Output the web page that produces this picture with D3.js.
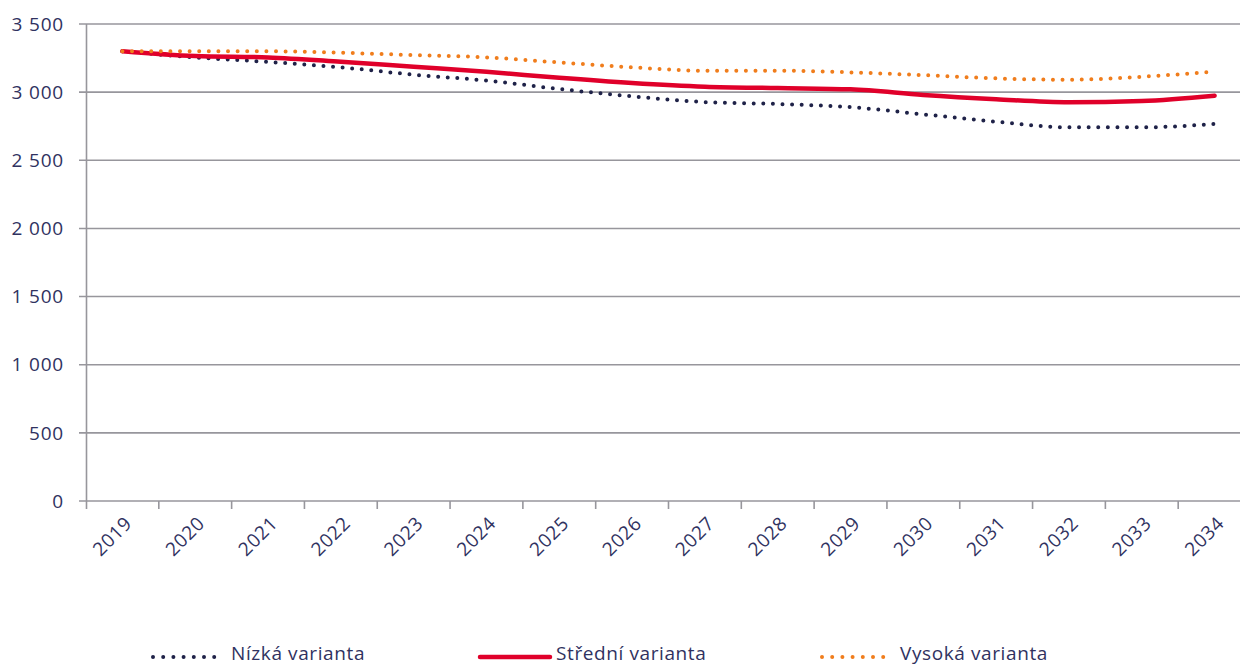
<!DOCTYPE html>
<html>
<head>
<meta charset="utf-8">
<script src="https://cdn.jsdelivr.net/npm/d3@7"></script>
<style>
  body { margin: 0; background: #fff; }
  svg { display: block; font-family: "Open Sans", sans-serif; }
</style>
</head>
<body>
<script>
// data
const years = ["2019","2020","2021","2022","2023","2024","2025","2026","2027","2028","2029","2030","2031","2032","2033","2034"];
const nizka   = [3300, 3255, 3222, 3182, 3128, 3085, 3023, 2969, 2927, 2913, 2890, 2837, 2783, 2742, 2742, 2766];
const stredni = [3300, 3265, 3255, 3223, 3186, 3150, 3105, 3067, 3040, 3030, 3021, 2979, 2948, 2926, 2935, 2974];
const vysoka  = [3300, 3300, 3300, 3289, 3272, 3255, 3218, 3182, 3157, 3157, 3145, 3125, 3101, 3091, 3113, 3150];
const yTicks = [0, 500, 1000, 1500, 2000, 2500, 3000, 3500];
const seriesNames = ["Nízká varianta", "Střední varianta", "Vysoká varianta"];

const width = 1240, height = 667;
const txtColor = "#30325f";
const gridColor = "#97969c";

const series = [
  { name: seriesNames[0], values: nizka, color: "#1f2248", dash: true },
  { name: seriesNames[1], values: stredni, color: "#e0002a", dash: false },
  { name: seriesNames[2], values: vysoka, color: "#f07d1c", dash: true }
];

const svg = d3.select("body").append("svg")
  .attr("width", width).attr("height", height);

// plot area runs a bit past the right edge like the original
const x = d3.scaleBand().domain(years).range([86, 1251]);
const y = d3.scaleLinear().domain([0, 3500]).range([501, 24]);

// gridlines
svg.append("g").selectAll("line").data(yTicks).join("line")
  .attr("x1", 79).attr("x2", width)
  .attr("y1", d => y(d)).attr("y2", d => y(d))
  .attr("stroke", gridColor).attr("stroke-width", 1.6);

// y labels
svg.append("g").selectAll("text").data(yTicks).join("text")
  .attr("x", 64).attr("y", d => y(d)).attr("dy", "0.35em")
  .attr("text-anchor", "end")
  .attr("font-size", 19).attr("letter-spacing", 0.8).attr("fill", txtColor)
  .text(d => d3.format(",")(d).replace(/,/g, " "));

// y axis line
svg.append("line")
  .attr("x1", 86.5).attr("x2", 86.5).attr("y1", 24).attr("y2", 509)
  .attr("stroke", gridColor).attr("stroke-width", 1.6);

// x ticks at band boundaries
const bounds = years.map(d => x(d)).slice(1).concat([x(years[years.length - 1]) + x.bandwidth()]);
svg.append("g").selectAll("line").data(bounds.filter(b => b < width)).join("line")
  .attr("x1", d => d).attr("x2", d => d).attr("y1", 501).attr("y2", 509)
  .attr("stroke", gridColor).attr("stroke-width", 1.6);

// x labels
svg.append("g").selectAll("text").data(years).join("text")
  .attr("transform", d => `translate(${x(d) + x.bandwidth() / 2 + 6},${520}) rotate(-45)`)
  .attr("text-anchor", "end").attr("dy", "0.35em")
  .attr("font-size", 19).attr("letter-spacing", 0.6).attr("fill", txtColor)
  .text(d => d);

// lines
const line = d3.line()
  .x((d, i) => x(years[i]) + x.bandwidth() / 2)
  .y(d => y(d))
  .curve(d3.curveMonotoneX);

series.forEach(s => {
  svg.append("path")
    .datum(s.values)
    .attr("d", line)
    .attr("fill", "none")
    .attr("stroke", s.color)
    .attr("stroke-width", s.dash ? 4 : 4.5)
    .attr("stroke-linecap", "round")
    .attr("stroke-dasharray", s.dash ? "0 9.6" : null);
});

// legend
const legendPos = [153, 480, 822];
const lg = svg.append("g");
series.forEach((s, i) => {
  const lx = legendPos[i];
  const len = s.dash ? 62 : 70;
  lg.append("line")
    .attr("x1", lx).attr("x2", lx + len).attr("y1", 657).attr("y2", 657)
    .attr("stroke", s.color)
    .attr("stroke-width", s.dash ? 4 : 4.5)
    .attr("stroke-linecap", "round")
    .attr("stroke-dasharray", s.dash ? "0 10.2" : null);
  lg.append("text")
    .attr("x", lx + len + (s.dash ? 16 : 6)).attr("y", 653).attr("dy", "0.35em")
    .attr("font-size", 19).attr("letter-spacing", 0.6).attr("fill", txtColor)
    .text(s.name);
});
</script>
</body>
</html>
